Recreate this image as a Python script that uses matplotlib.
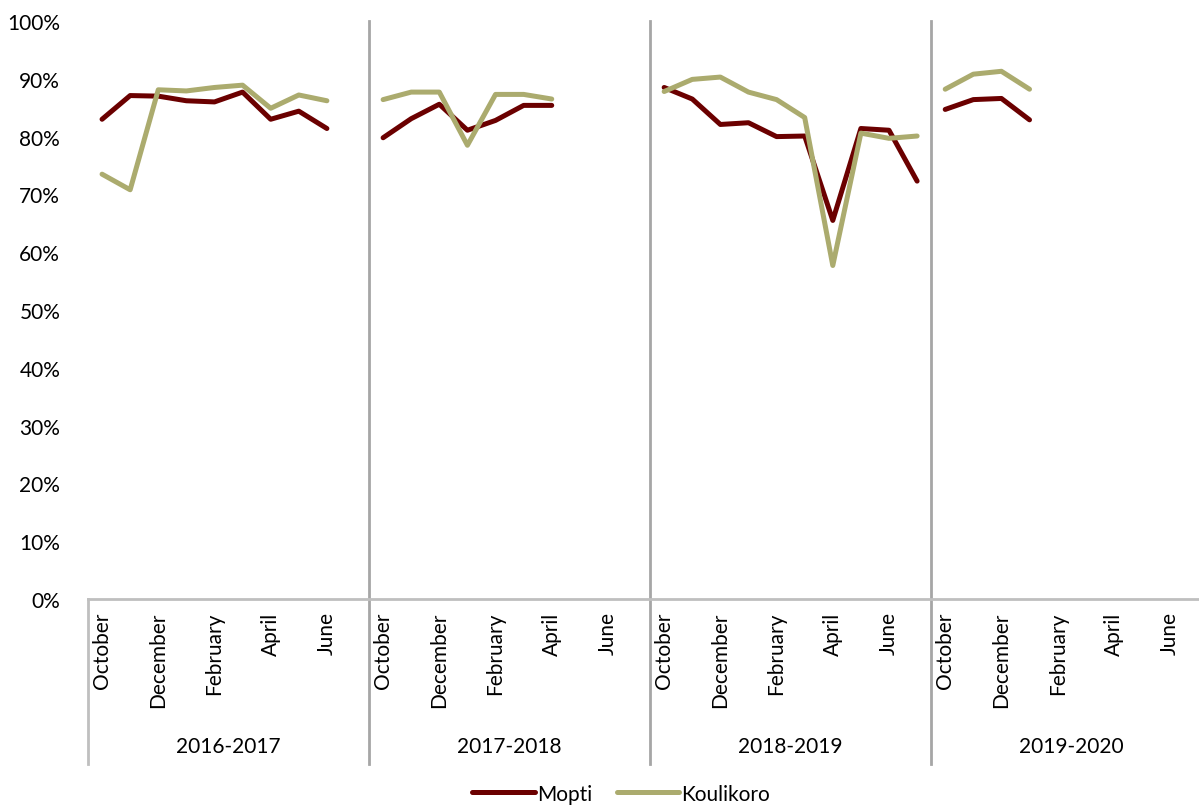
import numpy as np
import matplotlib
matplotlib.use("Agg")
import matplotlib.pyplot as plt
from matplotlib.lines import Line2D
import matplotlib.transforms as mtransforms

plt.rcParams['font.family'] = ['Lato', 'DejaVu Sans']

# Season groups and month categories (October to July)
seasons = ["2016-2017", "2017-2018", "2018-2019", "2019-2020"]
months = ["October", "November", "December", "January", "February",
          "March", "April", "May", "June", "July"]
shown_months = ["October", "December", "February", "April", "June"]

# Monthly shares (%) per season, from October onward
mopti_2016 = [83.0, 87.1, 87.0, 86.2, 86.0, 87.7, 83.0, 84.4, 81.4]
mopti_2017 = [79.8, 83.1, 85.6, 81.1, 82.8, 85.4, 85.4]
mopti_2018 = [88.5, 86.5, 82.1, 82.4, 80.0, 80.1, 65.5, 81.4, 81.1, 72.3]
mopti_2019 = [84.7, 86.4, 86.6, 82.9]

koulikoro_2016 = [73.5, 70.8, 88.1, 87.9, 88.5, 88.9, 84.9, 87.2, 86.2]
koulikoro_2017 = [86.4, 87.7, 87.7, 78.5, 87.3, 87.3, 86.5]
koulikoro_2018 = [87.8, 89.9, 90.3, 87.7, 86.4, 83.3, 57.7, 80.6, 79.7, 80.1]
koulikoro_2019 = [88.2, 90.8, 91.3, 88.2]

mopti = [mopti_2016, mopti_2017, mopti_2018, mopti_2019]
koulikoro = [koulikoro_2016, koulikoro_2017, koulikoro_2018, koulikoro_2019]

n_m = len(months)

fig = plt.figure(figsize=(11.99, 8.12), dpi=100)
ax = fig.add_axes([88 / 1199, 212 / 812, 1 - 88 / 1199, 578 / 812])

c_mopti = "#6B0000"
c_koul = "#ABAB6E"
line_kw = dict(lw=3.6, solid_capstyle="round", solid_joinstyle="round", zorder=3)

# Each season is drawn as its own line, so seasons stay unconnected
for g in range(len(seasons)):
    xm = g * n_m + np.arange(len(mopti[g]))
    ax.plot(xm, np.array(mopti[g]) / 100.0, color=c_mopti,
            label="Mopti" if g == 0 else None, **line_kw)
for g in range(len(seasons)):
    xk = g * n_m + np.arange(len(koulikoro[g]))
    ax.plot(xk, np.array(koulikoro[g]) / 100.0, color=c_koul,
            label="Koulikoro" if g == 0 else None, **line_kw)

ax.set_ylim(0, 1)
ax.set_xlim(-0.5, 39.03)
yt = np.arange(0, 1.01, 0.1)
ax.set_yticks(yt)
ax.set_yticklabels([f"{int(round(v * 100))}%" for v in yt], fontsize=15)
ax.tick_params(axis="y", length=0, pad=20)

# Month tick labels
tick_pos, tick_lab = [], []
for g in range(len(seasons)):
    for m in shown_months:
        tick_pos.append(g * n_m + months.index(m))
        tick_lab.append(m)
ax.set_xticks(tick_pos)
ax.set_xticklabels(tick_lab, rotation=90, fontsize=15, va="top")
ax.tick_params(axis="x", length=0, pad=9)

for s in ["top", "right", "left"]:
    ax.spines[s].set_visible(False)
ax.spines["bottom"].set_color("#BFBFBF")
ax.spines["bottom"].set_linewidth(2)

trans = mtransforms.blended_transform_factory(ax.transData, ax.transAxes)
grid_col = "#A6A6A6"
# Season separators
for g in range(1, len(seasons)):
    xs = g * n_m - 0.5
    ax.add_line(Line2D([xs, xs], [-0.285, 1.0], transform=trans,
                       color=grid_col, lw=2, clip_on=False, zorder=1))
ax.add_line(Line2D([-0.5, -0.5], [-0.285, 0.0], transform=trans,
                   color="#BFBFBF", lw=2, clip_on=False, zorder=1))

# Season labels
for g, s in enumerate(seasons):
    ax.text(g * n_m + (n_m - 1) / 2, -0.255, s, transform=trans,
            ha="center", va="center", fontsize=15)

fig.legend(loc="lower center", bbox_to_anchor=(0.518, -0.014), ncol=2,
           frameon=False, fontsize=15, handlelength=3.0, handletextpad=0.1,
           columnspacing=1.2)

fig.savefig("out.png", dpi=100)
